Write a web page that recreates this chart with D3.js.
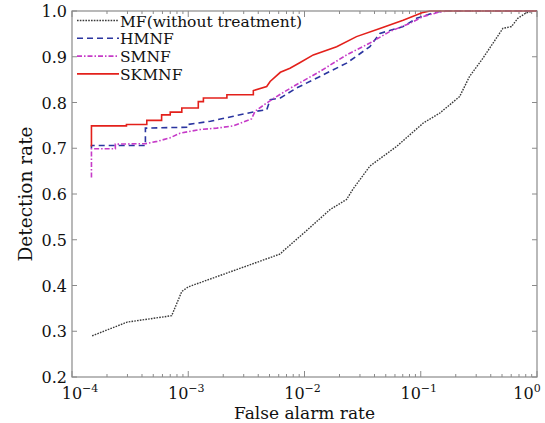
<!DOCTYPE html>
<html>
<head>
<meta charset="utf-8">
<script src="https://cdn.jsdelivr.net/npm/d3@7"></script>
<style>
  body { margin: 0; background: #fff; }
  text { font-family: "DejaVu Serif", "Liberation Serif", serif; fill: #111; }
</style>
</head>
<body>
<svg id="chart" width="545" height="423"></svg>
<script>
// ROC curves, log x axis
const mfX = [1.49e-4, 2.98e-4, 7.2e-4, 8.8e-4, 1.0e-3, 6.2e-3, 6.6e-3, 1.0e-2, 1.66e-2, 2.3e-2, 2.6e-2, 3.65e-2, 6.2e-2, 0.105, 0.146, 0.216, 0.263, 0.343, 0.476, 0.509, 0.603, 0.684, 0.807, 0.92, 1];
const mfY = [0.29, 0.32, 0.334, 0.387, 0.397, 0.469, 0.476, 0.516, 0.566, 0.588, 0.61, 0.661, 0.704, 0.755, 0.777, 0.813, 0.857, 0.897, 0.951, 0.962, 0.966, 0.984, 0.996, 1.0, 1.0];

const hmX = [1.47e-4, 1.47e-4, 4.28e-4, 4.28e-4, 1.0e-3, 1.0e-3, 1.55e-3, 2.45e-3, 3.9e-3, 4.73e-3, 5.06e-3, 6.2e-3, 8.6e-3, 1.36e-2, 2.3e-2, 3.65e-2, 4.45e-2, 7.05e-2, 9.2e-2, 0.136, 0.16, 1];
const hmY = [0.70, 0.706, 0.706, 0.744, 0.746, 0.752, 0.759, 0.77, 0.781, 0.784, 0.806, 0.81, 0.832, 0.857, 0.886, 0.922, 0.951, 0.966, 0.984, 0.998, 1.0, 1.0];

const smX = [1.47e-4, 1.47e-4, 2.36e-4, 2.36e-4, 4.3e-4, 5.4e-4, 7e-4, 8.5e-4, 1.27e-3, 1.76e-3, 2.45e-3, 3.5e-3, 3.76e-3, 4.73e-3, 6.1e-3, 8e-3, 1.36e-2, 2.3e-2, 3.65e-2, 5.4e-2, 8.05e-2, 0.105, 0.146, 0.17, 1];
const smY = [0.636, 0.699, 0.699, 0.709, 0.71, 0.715, 0.723, 0.733, 0.741, 0.744, 0.749, 0.764, 0.781, 0.799, 0.817, 0.835, 0.868, 0.904, 0.93, 0.955, 0.973, 0.988, 0.998, 1.0, 1.0];

const skX = [1.47e-4, 1.47e-4, 2.94e-4, 2.94e-4, 4.4e-4, 4.4e-4, 5.9e-4, 5.9e-4, 7e-4, 7e-4, 8.8e-4, 8.8e-4, 1.22e-3, 1.22e-3, 1.35e-3, 1.35e-3, 2.15e-3, 2.15e-3, 3.63e-3, 3.63e-3, 4.73e-3, 5.06e-3, 6.2e-3, 7.5e-3, 9.1e-3, 1.19e-2, 1.89e-2, 2.8e-2, 4.45e-2, 7.05e-2, 0.105, 0.12, 1];
const skY = [0.704, 0.749, 0.749, 0.752, 0.752, 0.761, 0.761, 0.773, 0.773, 0.779, 0.779, 0.788, 0.788, 0.802, 0.802, 0.81, 0.81, 0.817, 0.817, 0.826, 0.835, 0.846, 0.866, 0.875, 0.887, 0.904, 0.922, 0.944, 0.962, 0.98, 0.997, 1.0, 1.0];

const seriesNames = ["MF(without treatment)", "HMNF", "SMNF", "SKMNF"];
const xTickExps = [-4, -3, -2, -1, 0];
const yTicks = [0.2, 0.3, 0.4, 0.5, 0.6, 0.7, 0.8, 0.9, 1.0];

const series = [
  { name: seriesNames[0], xs: mfX, ys: mfY, color: "#3a3a3a", dash: "1.6,1.2", w: 1.4 },
  { name: seriesNames[1], xs: hmX, ys: hmY, color: "#2b35a0", dash: "6,4", w: 1.6 },
  { name: seriesNames[2], xs: smX, ys: smY, color: "#c63bc8", dash: "5,2,1.5,2", w: 1.6 },
  { name: seriesNames[3], xs: skX, ys: skY, color: "#e3201b", dash: null, w: 1.6 }
];

const margin = { top: 11, right: 8, bottom: 46, left: 72 },
      width = 545 - margin.left - margin.right,
      height = 423 - margin.top - margin.bottom;

const svg = d3.select("#chart");
const g = svg.append("g").attr("transform", `translate(${margin.left}, ${margin.top})`);

const x = d3.scaleLog().domain([1e-4, 1]).range([0, width]);
const y = d3.scaleLinear().domain([0.2, 1.0]).range([height, 0]);

const frame = "#8a8a8a";

// minor + major ticks on bottom and top (inward)
const minor = [];
for (let e = -4; e < 0; e++) for (let m = 2; m <= 9; m++) minor.push(m * Math.pow(10, e));

[0, height].forEach((yy, k) => {
  const dir = k === 0 ? 1 : -1;
  g.selectAll(null).data(minor).enter().append("line")
    .attr("x1", d => x(d)).attr("x2", d => x(d))
    .attr("y1", yy).attr("y2", yy + dir * 3)
    .attr("stroke", frame).attr("stroke-width", 1);
  g.selectAll(null).data(xTickExps).enter().append("line")
    .attr("x1", d => x(Math.pow(10, d))).attr("x2", d => x(Math.pow(10, d)))
    .attr("y1", yy).attr("y2", yy + dir * 6)
    .attr("stroke", frame).attr("stroke-width", 1);
});

[0, width].forEach((xx, k) => {
  const dir = k === 0 ? 1 : -1;
  g.selectAll(null).data(yTicks).enter().append("line")
    .attr("x1", xx).attr("x2", xx + dir * 5)
    .attr("y1", d => y(d)).attr("y2", d => y(d))
    .attr("stroke", frame).attr("stroke-width", 1);
});

// y tick labels
g.selectAll(null).data(yTicks).enter().append("text")
  .attr("x", -5).attr("y", d => y(d) + 6)
  .attr("text-anchor", "end")
  .style("font-size", "16px")
  .text(d => d.toFixed(1));

// x tick labels 10^n
const xl = g.selectAll(null).data(xTickExps).enter().append("text")
  .attr("x", (d, i) => x(Math.pow(10, d)) + (i === 0 ? 8 : i === xTickExps.length - 1 ? -10 : -2))
  .attr("y", height + 22)
  .attr("text-anchor", "middle")
  .style("font-size", "16px");
xl.append("tspan").text("10");
xl.append("tspan").attr("dy", -7).style("font-size", "11px").text(d => d === 0 ? "0" : "\u2212" + Math.abs(d));

// curves
const line = d3.line().x(d => x(d[0])).y(d => y(d[1]));
series.forEach(s => {
  const pts = s.xs.map((v, i) => [v, s.ys[i]]);
  g.append("path")
    .datum(pts)
    .attr("d", line)
    .attr("fill", "none")
    .attr("stroke", s.color)
    .attr("stroke-width", s.w)
    .attr("stroke-dasharray", s.dash);
});

// frame
g.append("rect").attr("width", width).attr("height", height)
  .attr("fill", "none").attr("stroke", frame).attr("stroke-width", 1.2);

// legend
const legend = g.append("g").attr("transform", "translate(5, 9.5)");
series.forEach((s, i) => {
  const row = legend.append("g").attr("transform", `translate(0, ${i * 17.8})`);
  row.append("line").attr("x1", 0).attr("x2", 42).attr("y1", 0).attr("y2", 0)
    .attr("stroke", s.color).attr("stroke-width", s.w).attr("stroke-dasharray", s.dash);
  row.append("text").attr("x", 43).attr("y", 6).style("font-size", "15.5px").text(s.name);
});

// axis titles
svg.append("text")
  .attr("x", margin.left + x(0.01)).attr("y", 419)
  .attr("text-anchor", "middle").style("font-size", "17px")
  .text("False alarm rate");

svg.append("text")
  .attr("transform", `translate(32, ${margin.top + height / 2}) rotate(-90)`)
  .attr("text-anchor", "middle").style("font-size", "18.5px")
  .text("Detection rate");
</script>
</body>
</html>
